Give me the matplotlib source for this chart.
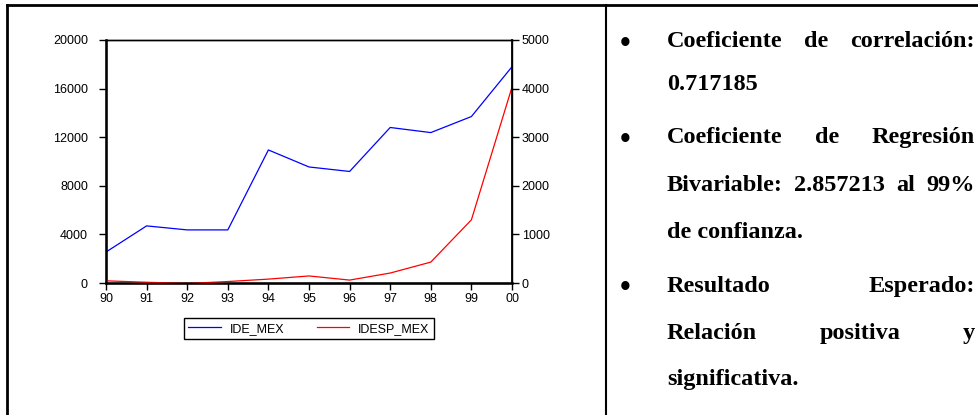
import matplotlib
matplotlib.use('Agg')
import matplotlib.pyplot as plt
from matplotlib.lines import Line2D

# Data
years = [1990, 1991, 1992, 1993, 1994, 1995, 1996, 1997, 1998, 1999, 2000]
year_labels = ['90', '91', '92', '93', '94', '95', '96', '97', '98', '99', '00']
ide_mex = [2550, 4700, 4370, 4370, 10950, 9550, 9180, 12800, 12380, 13700, 17800]
idesp_mex = [45, 15, -10, 30, 80, 145, 60, 205, 430, 1300, 4030]

# Text in the right cell: (words, baseline y in px, justified?, bullet?)
bullet_lines = [
    (['Coeficiente', 'de', 'correlación:'], 47, True, True),
    (['0.717185'], 90, False, False),
    (['Coeficiente', 'de', 'Regresión'], 143, True, True),
    (['Bivariable:', '2.857213', 'al', '99%'], 191, True, False),
    (['de confianza.'], 238, False, False),
    (['Resultado', 'Esperado:'], 292, True, True),
    (['Relación', 'positiva', 'y'], 339, True, False),
    (['significativa.'], 385, False, False),
]

W, H = 979, 415
fig = plt.figure(figsize=(W / 100, H / 100), dpi=100)
plt.rcParams['font.family'] = 'Liberation Sans'


def fx(px):
    return px / W


def fy(py):
    return 1 - py / H


# Table borders
fig.add_artist(Line2D([fx(7), fx(7)], [fy(5), 0], color='black', lw=2.0))
fig.add_artist(Line2D([fx(7), 1], [fy(5), fy(5)], color='black', lw=2.0))
fig.add_artist(Line2D([fx(606), fx(606)], [fy(5), 0], color='black', lw=1.5))

# Chart with two y axes
ax = fig.add_axes([fx(106), fy(283), fx(512) - fx(106), fy(40) - fy(283)])
ax2 = ax.twinx()

l1, = ax.plot(years, ide_mex, color='blue', lw=0.9)
l2, = ax2.plot(years, idesp_mex, color='red', lw=0.9)

ax.set_xlim(1990, 2000)
ax.set_ylim(0, 20000)
ax2.set_ylim(0, 5000)
ax.set_xticks(years)
ax.set_xticklabels(year_labels)
ax.set_yticks([0, 4000, 8000, 12000, 16000, 20000])
ax2.set_yticks([0, 1000, 2000, 3000, 4000, 5000])

for a in (ax, ax2):
    a.tick_params(direction='out', length=5, width=1, labelsize=9, pad=2)
    for s in a.spines.values():
        s.set_linewidth(1.0)
ax.tick_params(axis='y', pad=8)
ax.spines['left'].set_linewidth(1.8)
ax.spines['bottom'].set_linewidth(1.8)
ax2.spines['right'].set_linewidth(1.3)

leg = ax.legend([l1, l2], ['IDE_MEX', 'IDESP_MEX'], loc='upper center',
                bbox_to_anchor=(0.5, -0.12), ncol=2, fontsize=9, frameon=True,
                fancybox=False, edgecolor='black', handlelength=2.6,
                columnspacing=2.6, borderpad=0.35, borderaxespad=0.5,
                handletextpad=0.7, framealpha=1)
leg.get_frame().set_linewidth(1.0)

# Bullet text, justified between left and right edges
text_left, text_right = 667, 975
font = dict(family='Liberation Serif', weight='bold', size=17.5)
renderer = fig.canvas.get_renderer()

for words, base, justify, has_bullet in bullet_lines:
    if has_bullet:
        fig.text(fx(625), fy(base - 3), '\u2022', ha='center', va='center',
                 family='Liberation Serif', weight='bold', size=22)
    if not justify:
        fig.text(fx(text_left), fy(base), ' '.join(words),
                 ha='left', va='baseline', **font)
        continue
    arts = [fig.text(0, fy(base), w, ha='left', va='baseline', **font) for w in words]
    widths = [t.get_window_extent(renderer).width for t in arts]
    gap = (text_right - text_left - sum(widths)) / (len(words) - 1)
    x = text_left
    for t, w in zip(arts, widths):
        t.set_x(fx(x))
        x += w + gap

fig.savefig('out.png', dpi=100)
